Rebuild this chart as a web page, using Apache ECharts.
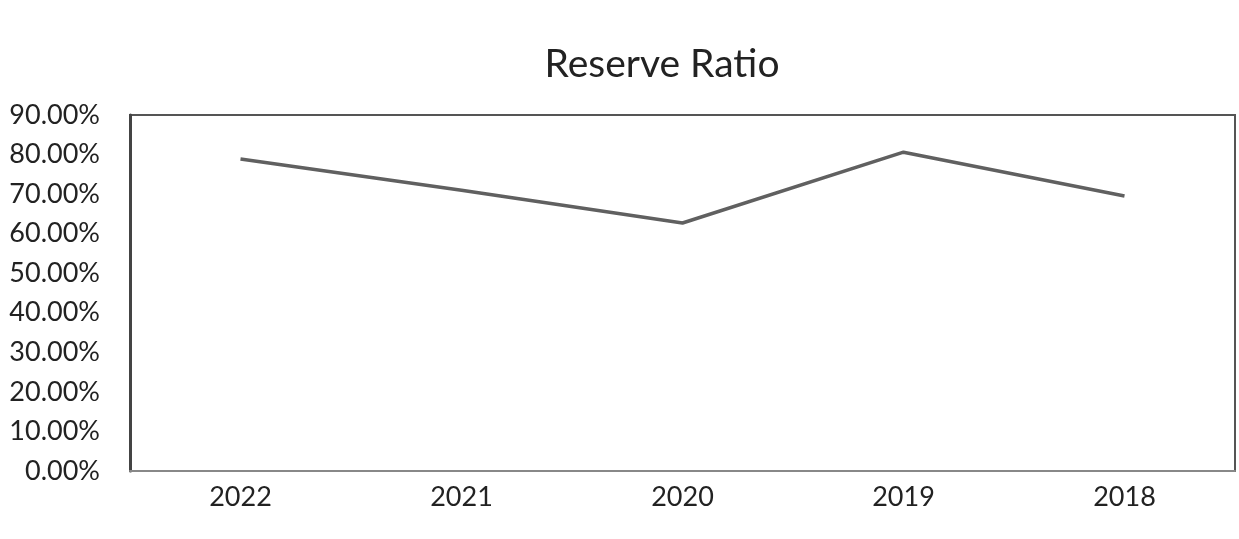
<!DOCTYPE html>
<html>
<head>
<meta charset="utf-8">
<script src="https://cdn.jsdelivr.net/npm/echarts@6/dist/echarts.min.js"></script>
<style>
html,body{margin:0;padding:0;background:#fff;}
#chart{width:1239px;height:539px;}
</style>
</head>
<body>
<div id="chart"></div>
<script>
const chartTitle = 'Reserve Ratio';
const years = ['2022', '2021', '2020', '2019', '2018'];
const reserveRatio = [0.789, 0.710, 0.627, 0.806, 0.695];
const yTicks = [0, 0.1, 0.2, 0.3, 0.4, 0.5, 0.6, 0.7, 0.8, 0.9];

const chart = echarts.init(document.getElementById('chart'));
chart.setOption({
  backgroundColor: '#ffffff',
  animation: false,
  title: {
    text: chartTitle,
    left: 657,
    textAlign: 'center',
    top: 40,
    textStyle: { fontFamily: 'Lato, "Open Sans", sans-serif', fontSize: 39, fontWeight: 'normal', color: '#222' }
  },
  grid: {
    left: 130, right: 4, top: 115, bottom: 68,
    show: true, borderColor: '#555', borderWidth: 2, backgroundColor: 'transparent'
  },
  xAxis: {
    type: 'category',
    data: years,
    boundaryGap: true,
    axisLine: { show: true, lineStyle: { color: '#888', width: 2 } },
    axisTick: { show: false },
    axisLabel: { fontFamily: 'Lato, "Open Sans", sans-serif', fontSize: 27, color: '#222', margin: 13 }
  },
  yAxis: {
    type: 'value',
    min: 0, max: 0.9, interval: 0.1,
    axisLine: { show: true, lineStyle: { color: '#444', width: 3 } },
    axisTick: { show: false },
    splitLine: { show: false },
    axisLabel: {
      fontFamily: 'Lato, "Open Sans", sans-serif', fontSize: 27, color: '#222', margin: 30,
      formatter: v => (v * 100).toFixed(2) + '%'
    }
  },
  series: [{
    type: 'line',
    data: reserveRatio,
    symbol: 'none',
    lineStyle: { color: '#606060', width: 3.5 }
  }]
});
</script>
</body>
</html>
